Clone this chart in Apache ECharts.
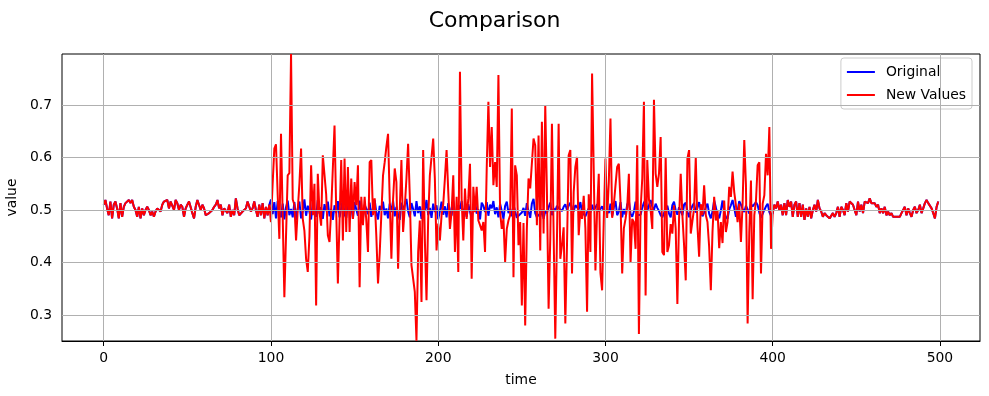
<!DOCTYPE html>
<html><head><meta charset="utf-8">
<script src="https://cdn.jsdelivr.net/npm/echarts@6/dist/echarts.min.js"></script>
<style>html,body{margin:0;padding:0;background:#fff}#c{width:989px;height:396px}</style>
</head><body><div id="c"></div>
<script>
// time 0-99 (both series identical)
const baseStart = [
.510,.519,.503,.490,.516,.484,.510,.516,.503,.484,
.513,.487,.506,.513,.510,.519,.513,.519,.506,.500,
.487,.506,.484,.503,.490,.500,.506,.500,.490,.497,
.487,.497,.503,.506,.497,.510,.516,.513,.519,.503,
.516,.519,.500,.519,.513,.500,.510,.506,.487,.503,
.510,.516,.513,.494,.484,.506,.519,.516,.500,.510,
.503,.490,.490,.494,.497,.500,.506,.510,.519,.503,
.510,.490,.503,.506,.494,.510,.487,.500,.490,.522,
.503,.490,.487,.497,.497,.503,.516,.513,.497,.503,
.516,.500,.487,.510,.490,.513,.484,.506,.490,.510];
// time 100-399, original series
const originalMiddle = [
.520,.492,.515,.484,.517,.498,.486,.512,.482,.505,
.518,.490,.502,.486,.515,.481,.503,.516,.484,.497,
.520,.489,.508,.496,.482,.514,.500,.487,.519,.493,
.505,.483,.511,.498,.516,.488,.502,.481,.509,.494,
.517,.486,.504,.520,.491,.485,.512,.497,.508,.483,
.515,.501,.489,.518,.496,.484,.510,.502,.492,.514,
.487,.505,.519,.495,.482,.508,.499,.516,.490,.503,
.484,.512,.496,.518,.488,.506,.493,.481,.514,.500,
.510,.521,.497,.486,.513,.502,.488,.517,.494,.507,
.483,.511,.499,.519,.490,.504,.485,.512,.496,.509,
.482,.498,.516,.491,.507,.486,.513,.500,.489,.518,
.495,.483,.509,.502,.517,.490,.504,.487,.511,.497,
.484,.506,.519,.493,.501,.482,.514,.508,.496,.515,
.489,.510,.503,.517,.492,.505,.486,.512,.498,.483,
.508,.516,.494,.502,.488,.511,.497,.485,.489,.486,
.495,.504,.489,.513,.497,.485,.512,.521,.494,.486,
.492,.487,.501,.483,.498,.494,.505,.514,.490,.503,
.498,.508,.504,.502,.498,.506,.511,.500,.508,.514,
.504,.497,.509,.506,.501,.515,.496,.492,.488,.486,
.503,.495,.510,.499,.505,.511,.497,.502,.507,.498,
.506,.500,.494,.512,.488,.505,.517,.490,.497,.515,
.486,.502,.491,.510,.518,.493,.487,.497,.516,.490,
.487,.491,.504,.514,.520,.498,.509,.519,.506,.500,
.512,.504,.498,.490,.486,.494,.502,.508,.493,.486,
.509,.516,.499,.491,.505,.503,.490,.510,.514,.497,
.486,.499,.508,.513,.495,.504,.515,.499,.488,.495,
.505,.512,.493,.484,.497,.518,.505,.490,.484,.499,
.518,.496,.487,.483,.501,.509,.519,.504,.487,.498,
.517,.510,.502,.496,.508,.501,.493,.511,.507,.504,
.515,.509,.495,.485,.488,.500,.507,.512,.496,.489];
// time 100-399, new values series
const newMiddle = [
.477,.550,.617,.625,.530,.445,.645,.490,.334,.450,
.566,.570,.797,.520,.510,.442,.500,.550,.617,.483,
.460,.407,.382,.450,.585,.490,.550,.318,.569,.496,
.470,.604,.604,.530,.452,.439,.500,.580,.661,.500,
.360,.480,.595,.442,.598,.458,.582,.458,.560,.483,
.553,.509,.585,.353,.525,.471,.525,.480,.420,.591,
.595,.490,.522,.450,.360,.417,.417,.566,.591,.620,
.645,.520,.407,.520,.579,.553,.388,.500,.595,.458,
.505,.560,.626,.527,.395,.395,.344,.251,.420,.480,
.325,.614,.445,.328,.483,.566,.569,.636,.559,.423,
.474,.442,.490,.511,.560,.614,.535,.464,.496,.566,
.420,.525,.382,.763,.522,.442,.541,.483,.522,.588,
.369,.544,.496,.544,.480,.471,.461,.477,.420,.579,
.706,.582,.658,.547,.591,.544,.757,.496,.464,.483,
.401,.464,.480,.490,.693,.372,.585,.566,.433,.477,
.318,.475,.280,.465,.560,.541,.544,.636,.623,.471,
.642,.423,.668,.455,.700,.534,.312,.445,.664,.458,
.255,.445,.664,.407,.433,.467,.284,.433,.604,.614,
.379,.534,.582,.601,.452,.500,.483,.527,.465,.306,
.530,.420,.760,.757,.385,.500,.569,.380,.347,.483,
.598,.485,.553,.674,.485,.510,.547,.582,.588,.515,
.379,.465,.483,.505,.569,.400,.483,.477,.426,.623,
.264,.500,.560,.706,.337,.595,.520,.500,.464,.710,
.569,.544,.569,.639,.420,.414,.601,.420,.433,.473,
.455,.509,.464,.321,.483,.569,.490,.433,.366,.598,
.614,.455,.455,.503,.601,.470,.411,.511,.490,.547,
.490,.477,.430,.347,.458,.525,.480,.500,.427,.477,
.437,.518,.458,.477,.544,.525,.573,.534,.509,.477,
.512,.439,.512,.633,.547,.284,.458,.556,.330,.490,
.518,.585,.591,.379,.512,.528,.607,.566,.658,.426];
// time 400-499 (both series identical)
const baseEnd = [
.494,.510,.503,.516,.500,.510,.490,.513,.490,.519,
.506,.516,.487,.510,.516,.487,.513,.487,.510,.481,
.503,.487,.506,.484,.500,.510,.497,.519,.503,.497,
.487,.494,.490,.487,.484,.481,.494,.487,.494,.506,
.487,.506,.500,.490,.513,.497,.516,.519,.510,.500,
.490,.516,.497,.510,.494,.516,.519,.513,.522,.513,
.510,.513,.506,.510,.494,.503,.494,.506,.490,.497,
.490,.494,.487,.484,.487,.490,.487,.494,.500,.506,
.490,.503,.494,.487,.500,.506,.494,.500,.510,.494,
.503,.513,.519,.513,.516,.503,.494,.484,.506,.516];
const xTicks = [0, 100, 200, 300, 400, 500];
const yTicks = [0.3, 0.4, 0.5, 0.6, 0.7];
const seriesNames = ['Original', 'New Values'];

const originalValues = baseStart.concat(originalMiddle, baseEnd);
const newValues = baseStart.concat(newMiddle, baseEnd);
const toPairs = arr => arr.map((v, i) => [i, v]);

const FONT = 'DejaVu Sans';
const chart = echarts.init(document.getElementById('c'), null, {renderer: 'canvas'});
chart.setOption({
  animation: false,
  backgroundColor: '#ffffff',
  textStyle: {fontFamily: FONT, color: '#000'},
  title: {
    text: 'Comparison', left: 'center', top: 5,
    textStyle: {fontFamily: FONT, fontSize: 22, fontWeight: 'normal', color: '#000'}
  },
  grid: {left: 62, right: 9, top: 54, bottom: 55, outerBoundsMode: 'none', containLabel: false,
         show: true, borderColor: '#000', borderWidth: 1, backgroundColor: 'transparent'},
  legend: {
    data: seriesNames, orient: 'vertical', right: 17, top: 58,
    icon: 'rect', itemWidth: 28, itemHeight: 2, itemGap: 7,
    padding: [6, 6, 6, 6],
    backgroundColor: 'rgba(255,255,255,0.8)', borderColor: '#cccccc', borderWidth: 1, borderRadius: 3,
    textStyle: {fontFamily: FONT, fontSize: 13.9, color: '#000', padding: [0, 0, 0, 6], lineHeight: 16}
  },
  xAxis: {
    type: 'value', min: -24.95, max: 523.95,
    name: 'time', nameLocation: 'middle', nameGap: 32,
    nameTextStyle: {fontFamily: FONT, fontSize: 13.9, color: '#000'},
    splitLine: {show: false},
    axisLine: {show: true, lineStyle: {color: '#000', width: 1}},
    axisTick: {show: true, length: 5, customValues: xTicks, lineStyle: {color: '#000', width: 1}},
    axisLabel: {customValues: xTicks, margin: 10, fontFamily: FONT, fontSize: 13.9, color: '#000', formatter: v => String(v)}
  },
  yAxis: {
    type: 'value', min: 0.2505, max: 0.797,
    name: 'value', nameLocation: 'middle', nameGap: 35,
    nameTextStyle: {fontFamily: FONT, fontSize: 13.9, color: '#000'},
    splitLine: {show: false},
    axisLine: {show: true, lineStyle: {color: '#000', width: 1}},
    axisTick: {show: true, length: 5, customValues: yTicks, lineStyle: {color: '#000', width: 1}},
    axisLabel: {customValues: yTicks, margin: 10, fontFamily: FONT, fontSize: 13.9, color: '#000', formatter: v => v.toFixed(1)}
  },
  series: [
    {
      name: '_grid', type: 'line', data: [], silent: true, z: 1,
      markLine: {
        silent: true, symbol: 'none', animation: false, label: {show: false},
        lineStyle: {color: '#b0b0b0', width: 1, type: 'solid'},
        emphasis: {disabled: true},
        data: xTicks.map(t => ({xAxis: t})).concat(yTicks.map(t => ({yAxis: t})))
      }
    },
    {
      name: seriesNames[0], type: 'line', data: toPairs(originalValues), z: 3,
      symbol: 'none', showSymbol: false, color: '#0000ff',
      lineStyle: {color: '#0000ff', width: 2}
    },
    {
      name: seriesNames[1], type: 'line', data: toPairs(newValues), z: 4,
      symbol: 'none', showSymbol: false, color: '#ff0000',
      lineStyle: {color: '#ff0000', width: 2}
    }
  ]
});
</script></body></html>
